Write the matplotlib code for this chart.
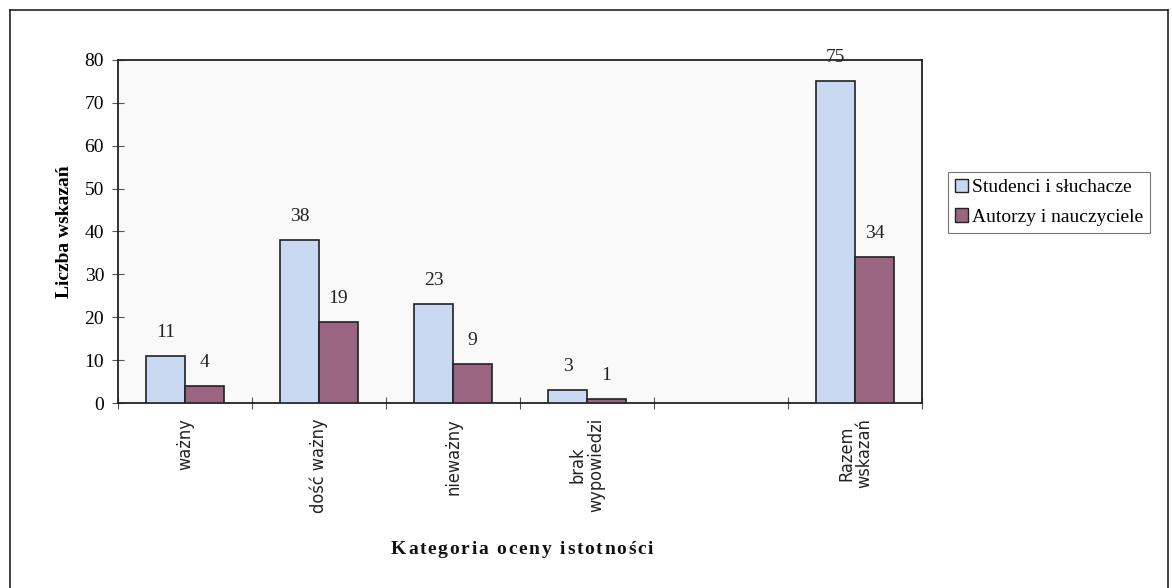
import matplotlib
matplotlib.use("Agg")
import matplotlib.pyplot as plt
import numpy as np
from matplotlib.lines import Line2D
from matplotlib.patches import Patch

categories = ["ważny", "dość ważny", "nieważny", "brak\nwypowiedzi", "", "Razem\nwskazań"]
studenci = [11, 38, 23, 3, None, 75]
autorzy = [4, 19, 9, 1, None, 34]
series_names = ["Studenci i słuchacze", "Autorzy i nauczyciele"]
yticks = [0, 10, 20, 30, 40, 50, 60, 70, 80]
xlabel = "Kategoria oceny istotności"
ylabel = "Liczba wskazań"

serif = "Liberation Serif"

fig = plt.figure(figsize=(11.72, 5.88), dpi=100)
fig.patch.set_facecolor("white")

# outer frame
for xs, ys in [([10/1172, 10/1172], [0, 1 - 10/588]),
               ([10/1172, 1168/1172], [1 - 10/588, 1 - 10/588]),
               ([1168/1172, 1168/1172], [0, 1 - 10/588])]:
    fig.add_artist(Line2D(xs, ys, color="#222222", lw=1.2, transform=fig.transFigure))

ax = fig.add_axes([118/1172, 1 - 403/588, (922 - 118)/1172, (403 - 60)/588])
ax.set_facecolor("#f9f9f9")

x = np.arange(len(categories))
w = 0.29
c_blue = "#c9d9f2"
c_purp = "#996581"
for i in range(len(categories)):
    if studenci[i] is None:
        continue
    ax.bar(x[i] - w/2, studenci[i], w, color=c_blue, edgecolor="#222222", lw=1.2, zorder=3)
    ax.bar(x[i] + w/2, autorzy[i], w, color=c_purp, edgecolor="#222222", lw=1.2, zorder=3)
    ax.text(x[i] - w/2, studenci[i] + 3.5, str(studenci[i]), ha="center", va="bottom",
            fontsize=14, family=serif, color="#222222")
    ax.text(x[i] + w/2, autorzy[i] + 3.5, str(autorzy[i]), ha="center", va="bottom",
            fontsize=14, family=serif, color="#222222")

ax.set_xlim(-0.5, len(categories) - 0.5)
ax.set_ylim(0, 80)
ax.set_yticks(yticks)
ax.set_yticklabels([str(v) for v in yticks], family=serif, fontsize=14)
ax.tick_params(axis="y", direction="inout", length=8, width=0.8, color="#555555", pad=6)

ax.set_xticks(np.arange(-0.5, len(categories) + 0.5, 1.0))
ax.set_xticklabels([])
ax.tick_params(axis="x", direction="inout", length=8, width=0.8, color="#555555")
for i, c in enumerate(categories):
    if c:
        ax.text(x[i], -3.5, c, rotation=90, ha="center", va="top", fontsize=13,
                family="DejaVu Sans", fontstretch="condensed", color="#222222", linespacing=1.0)

for s in ax.spines.values():
    s.set_color("#222222")
    s.set_linewidth(1.3)

ax.set_ylabel(ylabel, family=serif, fontsize=14, fontweight="bold", labelpad=8)

# letter-spaced x label
fig.canvas.draw()
renderer = fig.canvas.get_renderer()
target_w = 262.0
cx, cy = 522, 550
widths = []
for ch in xlabel:
    t = fig.text(0, 0, ch if ch != " " else "n", family=serif, fontsize=14, fontweight="bold")
    bb = t.get_window_extent(renderer)
    widths.append(bb.width * (0.5 if ch == " " else 1.0))
    t.remove()
spacing = (target_w - sum(widths)) / (len(xlabel) - 1)
xpos = cx - target_w / 2
for ch, wd in zip(xlabel, widths):
    if ch != " ":
        fig.text(xpos / 1172, 1 - cy / 588, ch, family=serif, fontsize=14, fontweight="bold",
                 ha="left", va="center", color="#111111")
    xpos += wd + spacing

leg = fig.legend(
    handles=[Patch(facecolor=c_blue, edgecolor="#222222", label=series_names[0]),
             Patch(facecolor=c_purp, edgecolor="#222222", label=series_names[1])],
    loc="upper left", bbox_to_anchor=(948/1172, 1 - 172/588), frameon=True, fancybox=False,
    prop={"family": serif, "size": 14}, handlelength=0.7, handleheight=0.7, handletextpad=0.2,
    borderpad=0.35, labelspacing=0.6, borderaxespad=0)
leg.get_frame().set_edgecolor("#555555")
leg.get_frame().set_linewidth(0.8)

fig.savefig("out.png", dpi=100)
